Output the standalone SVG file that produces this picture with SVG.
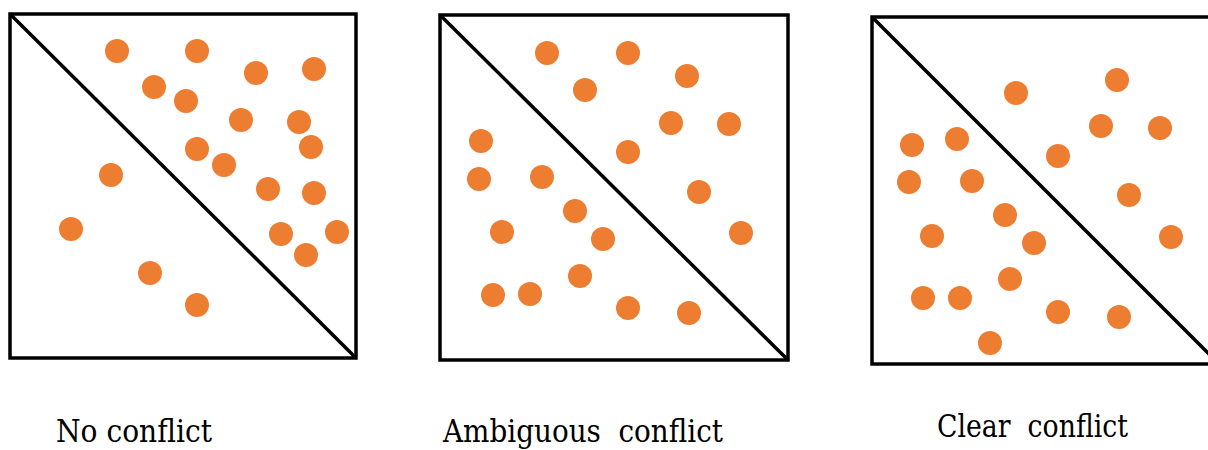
<svg xmlns="http://www.w3.org/2000/svg" width="1208" height="450" viewBox="0 0 1208 450">
<style>
.frame{fill:none;stroke:#000;stroke-width:3.5}
.diag{stroke:#000;stroke-width:3.5}
.dot{fill:#ED7D31}
.lbl{font-family:"DejaVu Serif",serif;font-size:32px;fill:#000;white-space:pre}
</style>
<rect width="1208" height="450" fill="#fff"/>
<g id="panel-no-conflict">
<rect class="frame" x="10" y="14" width="346" height="344"/>
<line class="diag" x1="10" y1="14" x2="356" y2="358"/>
<g class="dot">
<circle cx="117" cy="51" r="12"/><circle cx="197" cy="51" r="12"/><circle cx="256" cy="73" r="12"/><circle cx="314" cy="69" r="12"/>
<circle cx="154" cy="87" r="12"/><circle cx="186" cy="101" r="12"/><circle cx="241" cy="120" r="12"/><circle cx="299" cy="122" r="12"/>
<circle cx="311" cy="147" r="12"/><circle cx="197" cy="149" r="12"/><circle cx="224" cy="165" r="12"/><circle cx="111" cy="175" r="12"/>
<circle cx="268" cy="189" r="12"/><circle cx="314" cy="193" r="12"/><circle cx="71" cy="229" r="12"/><circle cx="281" cy="234" r="12"/>
<circle cx="337" cy="232" r="12"/><circle cx="306" cy="255" r="12"/><circle cx="150" cy="273" r="12"/><circle cx="197" cy="305" r="12"/>
</g>
<text class="lbl" x="56" y="442" textLength="156" lengthAdjust="spacingAndGlyphs">No conflict</text>
</g>
<g id="panel-ambiguous">
<rect class="frame" x="440" y="15" width="348" height="345"/>
<line class="diag" x1="440" y1="15" x2="788" y2="360"/>
<g class="dot">
<circle cx="547" cy="53" r="12"/><circle cx="628" cy="53" r="12"/><circle cx="687" cy="76" r="12"/><circle cx="585" cy="90" r="12"/>
<circle cx="671" cy="123" r="12"/><circle cx="729" cy="124" r="12"/><circle cx="481" cy="141" r="12"/><circle cx="628" cy="152" r="12"/>
<circle cx="479" cy="179" r="12"/><circle cx="542" cy="177" r="12"/><circle cx="699" cy="192" r="12"/><circle cx="575" cy="211" r="12"/>
<circle cx="502" cy="232" r="12"/><circle cx="603" cy="239" r="12"/><circle cx="741" cy="233" r="12"/><circle cx="580" cy="276" r="12"/>
<circle cx="493" cy="295" r="12"/><circle cx="530" cy="294" r="12"/><circle cx="628" cy="308" r="12"/><circle cx="689" cy="313" r="12"/>
</g>
<text class="lbl" x="443" y="442" textLength="280" lengthAdjust="spacingAndGlyphs">Ambiguous  conflict</text>
</g>
<g id="panel-clear">
<rect class="frame" x="872" y="17" width="347" height="347"/>
<line class="diag" x1="872" y1="17" x2="1219" y2="364"/>
<g class="dot">
<circle cx="1016" cy="93" r="12"/><circle cx="1117" cy="80" r="12"/><circle cx="1101" cy="126" r="12"/><circle cx="1160" cy="128" r="12"/>
<circle cx="912" cy="145" r="12"/><circle cx="957" cy="139" r="12"/><circle cx="1058" cy="156" r="12"/><circle cx="909" cy="182" r="12"/>
<circle cx="972" cy="181" r="12"/><circle cx="1129" cy="195" r="12"/><circle cx="1005" cy="215" r="12"/><circle cx="932" cy="236" r="12"/>
<circle cx="1034" cy="243" r="12"/><circle cx="1171" cy="237" r="12"/><circle cx="1010" cy="279" r="12"/><circle cx="923" cy="298" r="12"/>
<circle cx="960" cy="298" r="12"/><circle cx="1058" cy="312" r="12"/><circle cx="1119" cy="317" r="12"/><circle cx="990" cy="343" r="12"/>
</g>
<text class="lbl" x="937" y="437" textLength="191" lengthAdjust="spacingAndGlyphs">Clear  conflict</text>
</g>
<g id="connectors"></g>
</svg>
